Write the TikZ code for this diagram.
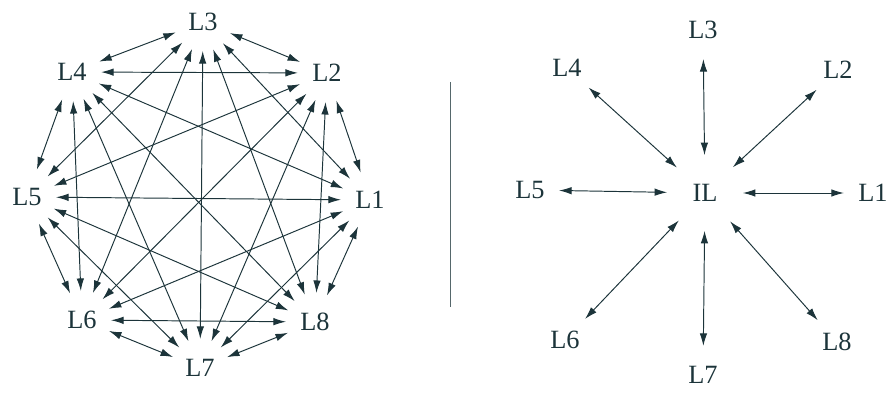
\documentclass[tikz,border=0pt]{standalone}
\usepackage{fontspec}
\setmainfont{Liberation Serif}
\usetikzlibrary{arrows.meta}
\definecolor{ink}{RGB}{28,52,58}
\begin{document}
\begin{tikzpicture}[every node/.style={circle,minimum size=1.15cm,inner sep=0pt,text=ink,font=\fontsize{15}{17}\selectfont},
  link/.style={draw=ink,line width=0.55pt,{Latex[length=2.5mm,width=1.5mm]}-{Latex[length=2.5mm,width=1.5mm]}},
  hub/.style={minimum size=1.5cm}]
\useasboundingbox (0,0) rectangle (17.86,7.88);
% full mesh
\node (L1) at (7.40,3.88) {L1}; \node (L2) at (6.54,6.42) {L2}; \node (L3) at (4.06,7.44) {L3};
\node (L4) at (1.44,6.44) {L4}; \node (L5) at (0.54,3.94) {L5}; \node (L6) at (1.64,1.48) {L6};
\node (L7) at (4.00,0.52) {L7}; \node (L8) at (6.30,1.44) {L8};
\path (L1) edge[link] (L2) (L1) edge[link] (L3) (L1) edge[link] (L4) (L1) edge[link] (L5)
      (L1) edge[link] (L6) (L1) edge[link] (L7) (L1) edge[link] (L8);
\path (L2) edge[link] (L3) (L2) edge[link] (L4) (L2) edge[link] (L5) (L2) edge[link] (L6)
      (L2) edge[link] (L7) (L2) edge[link] (L8);
\path (L3) edge[link] (L4) (L3) edge[link] (L5) (L3) edge[link] (L6) (L3) edge[link] (L7)
      (L3) edge[link] (L8);
\path (L4) edge[link] (L5) (L4) edge[link] (L6) (L4) edge[link] (L7) (L4) edge[link] (L8);
\path (L5) edge[link] (L6) (L5) edge[link] (L7) (L5) edge[link] (L8);
\path (L6) edge[link] (L7) (L6) edge[link] (L8) (L7) edge[link] (L8);
% separator
\coordinate (sepT) at (9.00,6.24); \coordinate (sepB) at (9.00,1.74);
\draw[ink!75,line width=0.55pt] (sepT)--(sepB);
% star
\node[hub] (IL) at (14.10,4.02) {IL};
\node (R1) at (17.46,4.02) {L1}; \node (R2) at (16.76,6.48) {L2}; \node (R3) at (14.06,7.28) {L3};
\node (R4) at (11.34,6.52) {L4}; \node (R5) at (10.60,4.08) {L5}; \node (R6) at (11.30,1.08) {L6};
\node (R7) at (14.06,0.38) {L7}; \node (R8) at (16.74,1.04) {L8};
\path (IL) edge[link] (R1) (IL) edge[link] (R2) (IL) edge[link] (R3) (IL) edge[link] (R4)
      (IL) edge[link] (R5) (IL) edge[link] (R6) (IL) edge[link] (R7) (IL) edge[link] (R8);
\end{tikzpicture}
\end{document}
